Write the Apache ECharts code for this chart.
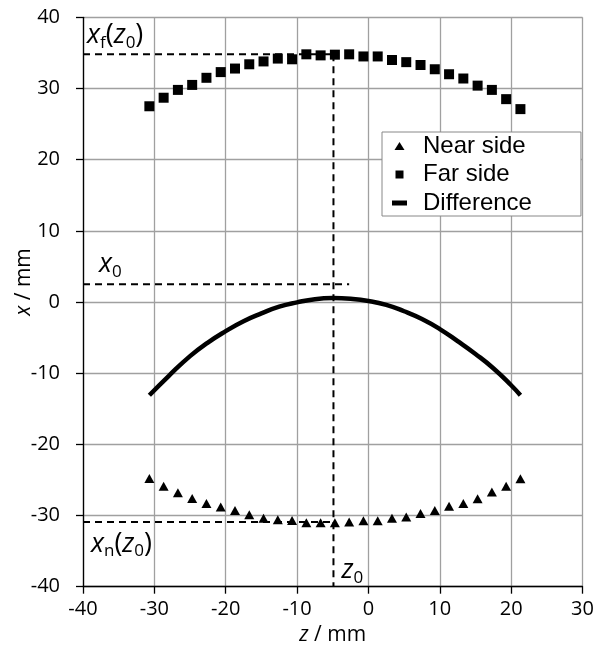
<!DOCTYPE html>
<html><head><meta charset="utf-8">
<script src="https://cdn.jsdelivr.net/npm/echarts@6/dist/echarts.min.js"></script>
<style>html,body{margin:0;padding:0;background:#fff}#c{width:604px;height:656px}</style>
</head><body><div id="c"></div>
<script>
// ---- data ----
const zValues = [-30.7,-28.7,-26.7,-24.7,-22.7,-20.7,-18.7,-16.7,-14.7,-12.7,-10.7,-8.7,-6.7,-4.7,-2.7,-0.7,1.3,3.3,5.3,7.3,9.3,11.3,13.3,15.3,17.3,19.3,21.3];
const nearSide = [-24.8,-25.9,-26.8,-27.6,-28.3,-28.8,-29.3,-29.9,-30.4,-30.6,-30.7,-31.0,-31.0,-31.0,-30.9,-30.75,-30.75,-30.4,-30.2,-29.7,-29.3,-28.7,-28.3,-27.65,-26.7,-25.9,-24.85];
const farSide = [27.5,28.7,29.8,30.5,31.5,32.3,32.8,33.4,33.8,34.2,34.1,34.8,34.65,34.75,34.8,34.5,34.5,34.0,33.7,33.3,32.7,32.0,31.4,30.4,29.8,28.5,27.1];
const diffZ = [-30.7,-28,-25,-22.5,-20,-17.5,-15,-12.5,-10,-7.5,-5,-2.5,0,2.5,5,7.5,10,12.5,15,17.5,20,21.3];
const diffValues = [-13.1,-10.4,-7.6,-5.7,-4.1,-2.7,-1.6,-0.65,-0.05,0.4,0.55,0.45,0.15,-0.4,-1.3,-2.4,-3.8,-5.5,-7.3,-9.3,-11.7,-13.1];
const z0 = -4.9;
const xfAtZ0 = 34.8;
const x0 = 2.5;
const x0LineEnd = -2.7;
const xnAtZ0 = -30.9;
const xAxisMin = -40, xAxisMax = 30, yAxisMin = -40, yAxisMax = 40, tickStep = 10;
const seriesNames = ['Near side', 'Far side', 'Difference'];

const pair = (xs, ys) => xs.map((x, i) => [x, ys[i]]);
const dashStyle = {color: '#000', width: 2, type: [7, 5]};
const guide = (data) => ({type: 'line', data, symbol: 'none', silent: true, lineStyle: dashStyle, z: 1, animation: false});

const chart = echarts.init(document.getElementById('c'), null, {renderer: 'canvas'});
const FONT = 'Open Sans';
const tickFont = {fontFamily: FONT, fontSize: 20, color: '#000'};
const axisCommon = {
  interval: tickStep,
  axisLine: {show: true, onZero: false, lineStyle: {color: '#000', width: 1.3}},
  axisTick: {show: true, length: 7, lineStyle: {color: '#000', width: 1.3}},
  splitLine: {show: true, lineStyle: {color: '#a0a0a0', width: 1.3}}
};
chart.setOption({
  animation: false,
  backgroundColor: '#fff',
  grid: {left: 83, right: 21.5, top: 17.3, bottom: 69.3, containLabel: false},
  xAxis: Object.assign({type: 'value', min: xAxisMin, max: xAxisMax,
    axisLabel: Object.assign({margin: 13}, tickFont),
    name: '{i|z} / mm', nameLocation: 'middle', nameGap: 35,
    nameTextStyle: {fontFamily: FONT, fontSize: 21, color: '#000', rich: {i: {fontFamily: FONT, fontSize: 21, fontStyle: 'italic', color: '#000'}}}
  }, axisCommon),
  yAxis: Object.assign({type: 'value', min: yAxisMin, max: yAxisMax,
    axisLabel: Object.assign({margin: 23}, tickFont)
  }, axisCommon),
  legend: {
    orient: 'vertical', left: 382, top: 132,
    padding: [2, 49, 1, 10], itemGap: 4.5,
    itemWidth: 15, itemHeight: 8,
    borderColor: '#888', borderWidth: 1, backgroundColor: '#fff',
    textStyle: {fontFamily: 'Liberation Sans', fontSize: 24, color: '#000', lineHeight: 24, padding: [0, 0, 0, 11]},
    data: [
      {name: seriesNames[0], icon: 'path://M5,0L10,8H0Z'},
      {name: seriesNames[1], icon: 'path://M0,0H9V9H0Z'},
      {name: seriesNames[2], icon: 'path://M0,0H15V5H0Z'}
    ]
  },
  series: [
    {name: seriesNames[0], type: 'scatter', symbol: 'triangle', symbolSize: [10, 9], itemStyle: {color: '#000', opacity: 1}, data: pair(zValues, nearSide), z: 3},
    {name: seriesNames[1], type: 'scatter', symbol: 'rect', symbolSize: 10, itemStyle: {color: '#000', opacity: 1}, data: pair(zValues, farSide), z: 3},
    {name: seriesNames[2], type: 'line', smooth: true, showSymbol: false, symbol: 'none', itemStyle: {color: '#000'}, lineStyle: {color: '#000', width: 4.5}, data: pair(diffZ, diffValues), z: 3},
    guide([[xAxisMin, xfAtZ0], [z0, xfAtZ0]]),
    guide([[xAxisMin, x0], [x0LineEnd, x0]]),
    guide([[xAxisMin, xnAtZ0], [z0, xnAtZ0]]),
    guide([[z0, xfAtZ0], [z0, yAxisMin]])
  ]
});

const px = (v) => chart.convertToPixel({gridIndex: 0}, v);
const annRich = {
  i: {fontFamily: FONT, fontSize: 27, fontStyle: 'italic', fill: '#000'},
  n: {fontFamily: FONT, fontSize: 27, fill: '#000'},
  s: {fontFamily: FONT, fontSize: 17, fill: '#000', padding: [15, 0, 0, 0]}
};
const originPx = px([xAxisMin, yAxisMin]);
const pf = px([xAxisMin, xfAtZ0]);
const p0 = px([xAxisMin, x0]);
const pn = px([xAxisMin, xnAtZ0]);
const pz = px([z0, yAxisMin]);
const topPx = px([xAxisMin, yAxisMax]);
chart.setOption({graphic: [
  {type: 'text', x: pf[0] + 4, y: pf[1] - 19, style: {text: '{i|x}{s|f}{n|(}{i|z}{s|0}{n|)}', rich: annRich, verticalAlign: 'middle', align: 'left'}},
  {type: 'text', x: p0[0] + 16, y: p0[1] - 20, style: {text: '{i|x}{s|0}', rich: annRich, verticalAlign: 'middle', align: 'left'}},
  {type: 'text', x: pn[0] + 8, y: pn[1] + 22, style: {text: '{i|x}{s|n}{n|(}{i|z}{s|0}{n|)}', rich: annRich, verticalAlign: 'middle', align: 'left'}},
  {type: 'text', x: pz[0] + 8, y: pz[1] - 16, style: {text: '{i|z}{s|0}', rich: annRich, verticalAlign: 'middle', align: 'left'}},
  {type: 'text', x: 24.5, y: (topPx[1] + originPx[1]) / 2 - 20, rotation: Math.PI / 2,
   style: {text: '{i|x} / mm', align: 'center', verticalAlign: 'middle',
     rich: {i: {fontFamily: FONT, fontSize: 21, fontStyle: 'italic', fill: '#000'}},
     font: '21px "Open Sans"', fill: '#000'}}
]});
</script>
</body></html>
